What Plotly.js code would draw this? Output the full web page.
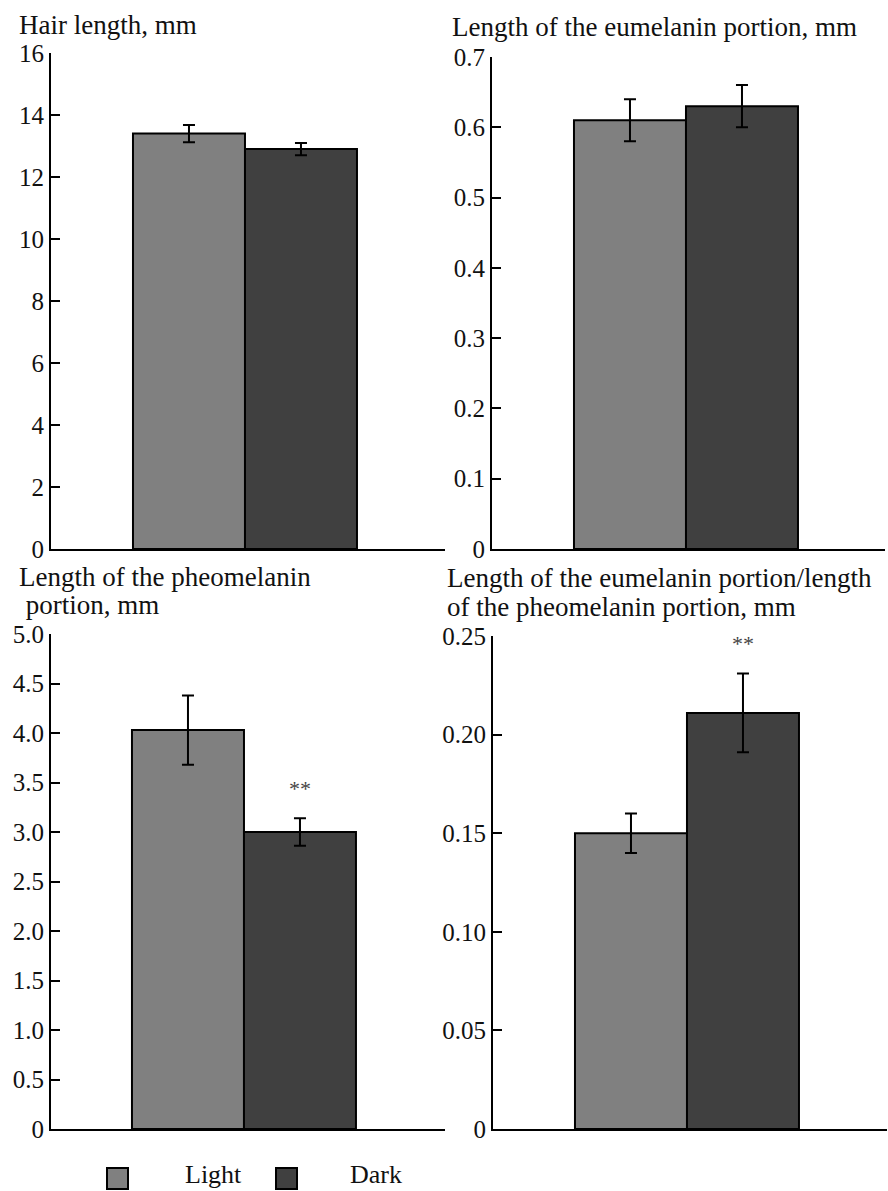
<!DOCTYPE html>
<html>
<head>
<meta charset="utf-8">
<script src="https://cdn.plot.ly/plotly-3.0.1.min.js"></script>
<style>html,body{margin:0;padding:0;background:#fff;}#chart{width:888px;height:1191px;}</style>
</head>
<body>
<div id="chart"></div>
<script>
// ---- data ----
const groups = ['Light', 'Dark'];
const groupColors = ['#808080', '#404040'];
const hairLength = [13.4, 12.9];
const hairLengthErr = [0.28, 0.2];
const eumelaninLength = [0.61, 0.63];
const eumelaninErr = [0.03, 0.03];
const pheomelaninLength = [4.03, 3.0];
const pheomelaninErr = [0.35, 0.14];
const ratioLength = [0.15, 0.211];
const ratioErr = [0.01, 0.02];
const hairSig = ['', ''];
const eumelaninSig = ['', ''];
const pheomelaninSig = ['', '**'];
const ratioSig = ['', '**'];
const hairTicks = [0, 2, 4, 6, 8, 10, 12, 14, 16];
const hairTickText = ['0', '2', '4', '6', '8', '10', '12', '14', '16'];
const eumTicks = [0, 0.1, 0.2, 0.3, 0.4, 0.5, 0.6, 0.7];
const eumTickText = ['0', '0.1', '0.2', '0.3', '0.4', '0.5', '0.6', '0.7'];
const pheoTicks = [0, 0.5, 1, 1.5, 2, 2.5, 3, 3.5, 4, 4.5, 5];
const pheoTickText = ['0', '0.5', '1.0', '1.5', '2.0', '2.5', '3.0', '3.5', '4.0', '4.5', '5.0'];
const ratioTicks = [0, 0.05, 0.1, 0.15, 0.2, 0.25];
const ratioTickText = ['0', '0.05', '0.10', '0.15', '0.20', '0.25'];
const panelTitles = [
  ['Hair length, mm'],
  ['Length of the eumelanin portion, mm'],
  ['Length of the pheomelanin', ' portion, mm'],
  ['Length of the eumelanin portion/length', 'of the pheomelanin portion, mm']
];

// ---- layout helpers (pixel -> paper) ----
const W = 888, H = 1191;
const fx = p => p / W;
const fy = p => 1 - p / H;
const FONT = 'Liberation Serif';
const positions = [1, 2];

const panels = [
  {vals: hairLength, err: hairLengthErr, sig: hairSig, ticks: hairTicks, tt: hairTickText, yr: [0, 16],
   xd: [51, 445], yd: [53, 549], xr: [-0.232, 3.286], title: panelTitles[0], tx: 17, ty: [25]},
  {vals: eumelaninLength, err: eumelaninErr, sig: eumelaninSig, ticks: eumTicks, tt: eumTickText, yr: [0, 0.7],
   xd: [492, 885], yd: [57, 549], xr: [-0.232, 3.277], title: panelTitles[1], tx: 450, ty: [27]},
  {vals: pheomelaninLength, err: pheomelaninErr, sig: pheomelaninSig, ticks: pheoTicks, tt: pheoTickText, yr: [0, 5],
   xd: [51, 445], yd: [634, 1129], xr: [-0.223, 3.295], title: panelTitles[2], tx: 17, ty: [577, 605]},
  {vals: ratioLength, err: ratioErr, sig: ratioSig, ticks: ratioTicks, tt: ratioTickText, yr: [0, 0.25],
   xd: [493, 887], yd: [636, 1129], xr: [-0.232, 3.286], title: panelTitles[3], tx: 445, ty: [578, 607]}
];

const traces = [];
const layout = {
  width: W, height: H,
  margin: {l: 0, r: 0, t: 0, b: 0},
  paper_bgcolor: '#ffffff', plot_bgcolor: '#ffffff',
  showlegend: false,
  bargap: 0,
  font: {family: FONT, size: 25, color: '#111'},
  annotations: [],
  shapes: []
};

panels.forEach((p, i) => {
  const n = i === 0 ? '' : String(i + 1);
  traces.push({
    type: 'bar',
    x: positions, y: p.vals, width: [1, 1],
    xaxis: 'x' + n, yaxis: 'y' + n,
    marker: {color: groupColors, line: {color: '#000', width: 2}},
    error_y: {type: 'data', array: p.err, visible: true, color: '#000', thickness: 2, width: 6},
    hoverinfo: 'skip', showlegend: false
  });
  layout['xaxis' + n] = {
    domain: [fx(p.xd[0]), fx(p.xd[1])], range: p.xr, anchor: 'y' + n,
    showgrid: false, zeroline: false, showline: true, linecolor: '#000', linewidth: 2,
    tickmode: 'array', tickvals: [p.xr[1]], ticks: 'inside', ticklen: 9, tickwidth: 2, tickcolor: '#000',
    showticklabels: false
  };
  layout['yaxis' + n] = {
    domain: [fy(p.yd[1]), fy(p.yd[0])], range: p.yr, anchor: 'x' + n,
    showgrid: false, zeroline: false, showline: true, linecolor: '#000', linewidth: 2,
    tickmode: 'array', tickvals: p.ticks, ticktext: p.tt,
    ticks: 'inside', ticklen: 9, tickwidth: 2, tickcolor: '#000',
    tickfont: {family: FONT, size: 25, color: '#111'}
  };
  p.sig.forEach((s, k) => {
    if (!s) return;
    layout.annotations.push({
      xref: 'x' + n, yref: 'y' + n, x: positions[k], y: p.vals[k] + p.err[k],
      text: s, showarrow: false, yanchor: 'middle', yshift: 30,
      font: {family: FONT, size: 22, color: '#444'}
    });
  });
  p.title.forEach((t, k) => {
    layout.annotations.push({
      xref: 'paper', yref: 'paper', x: fx(p.tx), y: fy(p.ty[k]),
      xanchor: 'left', yanchor: 'middle', text: t.replace(/^ /, '&nbsp;'), showarrow: false,
      font: {family: FONT, size: 27, color: '#111'}
    });
  });
});

// legend key
const keyX = [[107, 128], [276, 297]];
const keyTextX = [183, 348];
groups.forEach((g, k) => {
  layout.shapes.push({
    type: 'rect', xref: 'paper', yref: 'paper',
    x0: fx(keyX[k][0]), x1: fx(keyX[k][1]), y0: fy(1189), y1: fy(1168),
    fillcolor: groupColors[k], line: {color: '#000', width: 2}
  });
  layout.annotations.push({
    xref: 'paper', yref: 'paper', x: fx(keyTextX[k]), y: fy(1191),
    xanchor: 'left', yanchor: 'bottom', text: g, showarrow: false,
    font: {family: FONT, size: 26, color: '#111'}
  });
});

Plotly.newPlot('chart', traces, layout, {staticPlot: true, displayModeBar: false});
</script>
</body>
</html>
